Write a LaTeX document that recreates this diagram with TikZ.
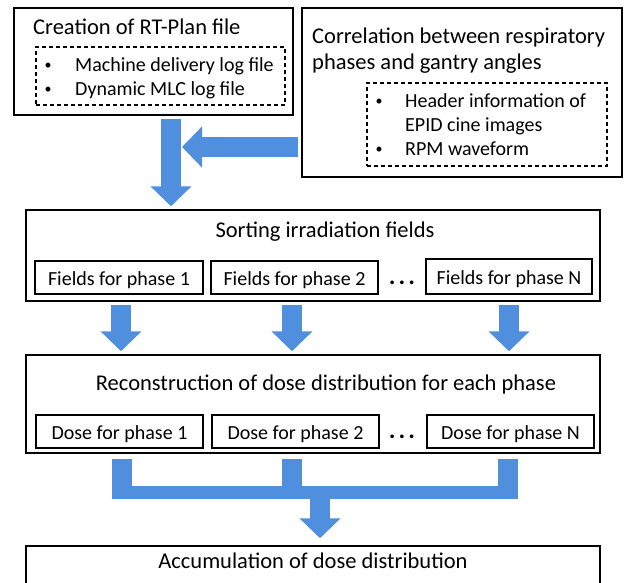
\documentclass[tikz,border=0pt]{standalone}
\usepackage{fontspec}
\setmainfont{Carlito}
\usepackage{tikz}
\usetikzlibrary{arrows.meta}
\usetikzlibrary{positioning}

\definecolor{flowblue}{RGB}{80,143,221}

\tikzset{
  outerbox/.style={draw, line width=2.2pt, inner sep=0pt},
  stagebox/.style={draw, line width=1.5pt, inner sep=0pt},
  listbox/.style={draw, line width=1.1pt, dash pattern=on 4pt off 3pt, inner sep=0pt},
  phasebox/.style={draw, line width=1.3pt, inner sep=0pt, minimum height=33pt,
    text height=15pt, text depth=0pt, font=\fontsize{20}{24}\selectfont},
  titletext/.style={inner sep=0pt, font=\fontsize{22.5}{27}\selectfont},
  itemtext/.style={inner sep=0pt, anchor=base west, font=\fontsize{20}{24}\selectfont},
  bullettext/.style={inner sep=0pt, anchor=base, font=\fontsize{14}{16}\selectfont},
  dotstext/.style={inner sep=0pt, anchor=base, font=\bfseries\fontsize{25}{28}\selectfont},
  flowarrow/.style={draw=flowblue, line width=20pt, -{Triangle[width=40pt,length=20pt]}},
  flowbar/.style={draw=flowblue, line width=20pt}
}

\begin{document}
\begin{tikzpicture}[x=1pt, y=-1pt]
  \useasboundingbox (0,0) rectangle (624,582);

  % input boxes
  \node[outerbox, minimum width=279pt, minimum height=107pt] (plan) at (153.5,61.5) {};
  \node[titletext, anchor=base west] (plantitle) at (33,34) {Creation of RT-Plan file};
  \node[listbox, minimum width=249pt, minimum height=58pt] (planlist) at (160.5,76) {};
  \node[bullettext] (pb1) at (48,69) {\textbullet};
  \node[itemtext] (pi1) at (75,71) {Machine delivery log file};
  \node[bullettext] (pb2) at (48,93) {\textbullet};
  \node[itemtext] (pi2) at (75,95) {Dynamic MLC log file};

  \node[outerbox, minimum width=320pt, minimum height=169pt] (corr) at (462,92.5) {};
  \node[titletext, anchor=base west] (corrtitle1) at (312,43) {Correlation between respiratory};
  \node[titletext, anchor=base west] (corrtitle2) at (312,69) {phases and gantry angles};
  \node[listbox, minimum width=240pt, minimum height=83pt] (corrlist) at (487,124.5) {};
  \node[bullettext] (cb1) at (379,105) {\textbullet};
  \node[itemtext] (ci1) at (405,107) {Header information of};
  \node[itemtext] (ci1b) at (405,131) {EPID cine images};
  \node[bullettext] (cb2) at (379,153) {\textbullet};
  \node[itemtext] (ci2) at (405,155) {RPM waveform};

  % sorting
  \node[stagebox, minimum width=574pt, minimum height=91pt] (sort) at (313,255.5) {};
  \node[titletext, anchor=base] (sorttitle) at (325,237) {Sorting irradiation fields};
  \node[phasebox, minimum width=168pt] (f1) at (119,277.5) {Fields for phase 1};
  \node[phasebox, minimum width=167pt] (f2) at (294.5,277.5) {Fields for phase 2};
  \node[dotstext] (fdots) at (402,284) {.\kern3pt.\kern3pt.};
  \node[phasebox, minimum width=166pt, minimum height=35pt] (fN) at (509,276.5) {Fields for phase N};

  % reconstruction
  \node[stagebox, minimum width=574pt, minimum height=98pt] (recon) at (313,404) {};
  \node[titletext, anchor=base] (recontitle) at (326,390) {Reconstruction of dose distribution for each phase};
  \node[phasebox, minimum width=167pt] (d1) at (119.5,431.5) {Dose for phase 1};
  \node[phasebox, minimum width=167pt] (d2) at (295.5,431.5) {Dose for phase 2};
  \node[dotstext] (ddots) at (402,438) {.\kern3pt.\kern3pt.};
  \node[phasebox, minimum width=167pt] (dN) at (510.5,431.5) {Dose for phase N};

  % accumulation
  \node[stagebox, minimum width=574pt, minimum height=54pt] (accum) at (313,573) {};
  \node[titletext, anchor=base] (accumtitle) at (313,568) {Accumulation of dose distribution};

  % blue flow
  \coordinate (feed) at (182,147);
  \draw[flowarrow] ([xshift=17.5pt,yshift=-3pt]plan.south) -- ([xshift=-142pt,yshift=3pt]sort.north);
  \draw[flowarrow] ([xshift=-3pt,yshift=-54.5pt]corr.west) -- (feed);

  \foreach \n/\dx in {f1/2, f2/-2.5, fN/0}
    \draw[flowarrow] ([xshift=\dx pt,yshift=-3pt]\n.south |- sort.south)
      -- ([xshift=\dx pt,yshift=3pt]\n.south |- recon.north);

  \coordinate (mergeL) at (112,492.5);
  \coordinate (mergeR) at (517.5,492.5);
  \draw[flowbar, line width=13pt] (mergeL) -- (mergeR);
  \foreach \n/\dx in {d1/2.5, d2/-3.5, dN/-3}
    \draw[flowbar] ([xshift=\dx pt,yshift=-5pt]\n.south |- recon.south)
      -- ([xshift=\dx pt,yshift=-6.5pt]\n.south |- mergeL);
  \draw[flowarrow] ([xshift=7pt,yshift=-6.5pt]accum.north |- mergeL) -- ([xshift=7pt,yshift=7pt]accum.north);
\end{tikzpicture}
\end{document}
